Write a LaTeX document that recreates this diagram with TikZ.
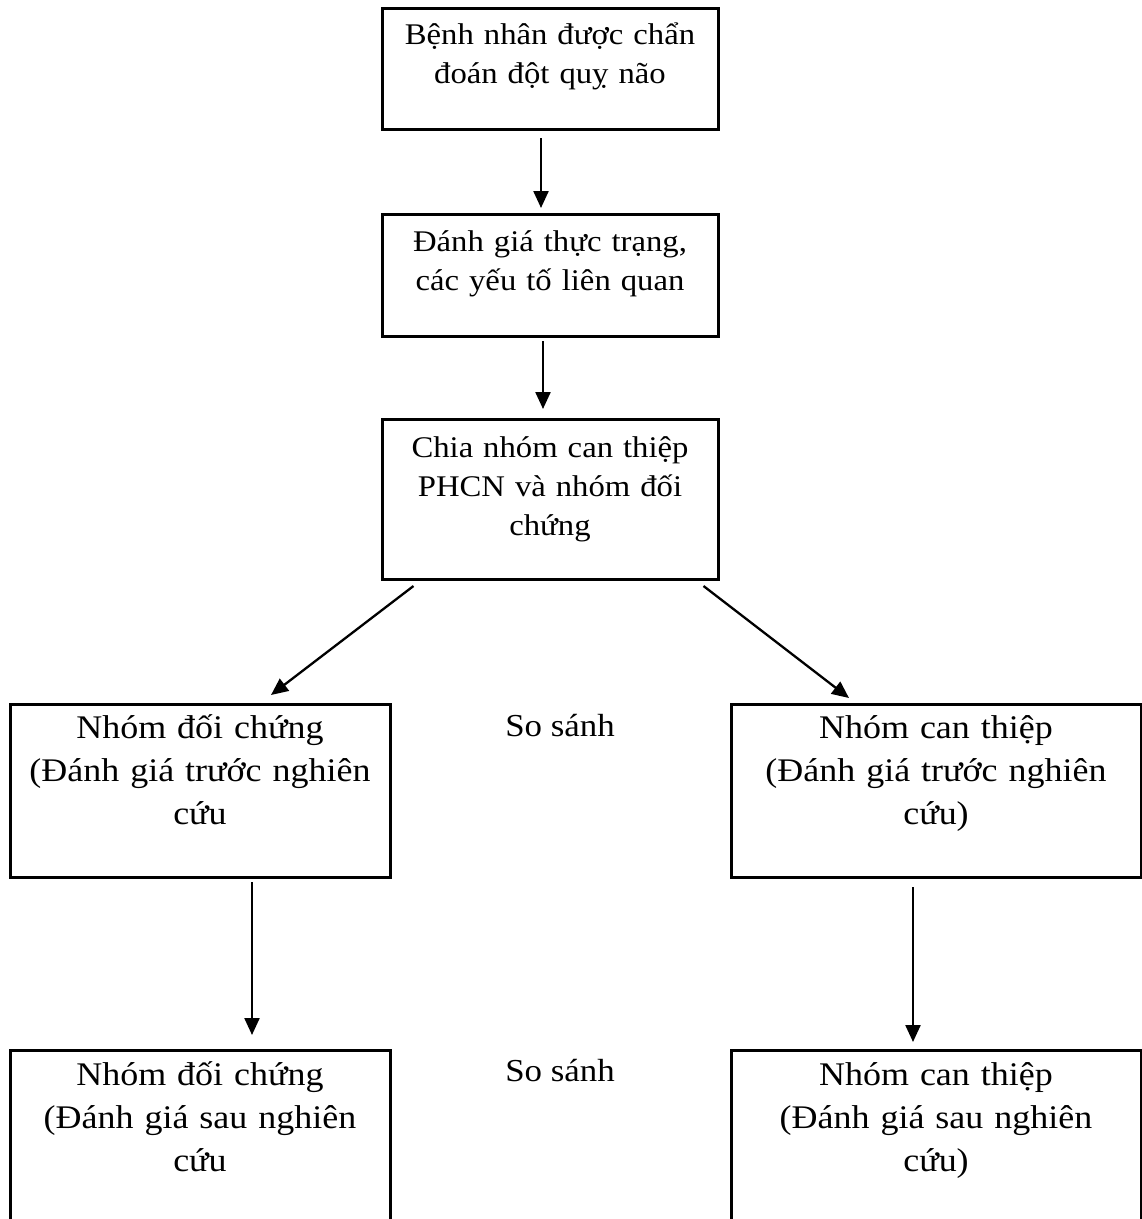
\documentclass[tikz,border=0pt]{standalone}
\usepackage{fontspec}
\setmainfont{Liberation Serif}[FakeStretch=1.09]
\usetikzlibrary{arrows.meta,positioning}

\begin{document}
\begin{tikzpicture}
[
x=1pt, y=-1pt,
stepbox/.style={rectangle, draw=black, line width=3pt, align=center, anchor=north, inner xsep=0pt, inner ysep=0pt, text width=336pt, font=\fontsize{30}{39}\selectfont},
groupbox/.style={stepbox, font=\fontsize{33}{43}\selectfont},
comparetext/.style={font=\fontsize{32}{40}\selectfont},
>={Triangle[length=17pt,width=15pt]},
flow/.style={->, line width=2.3pt},
node distance=82pt,
]
\useasboundingbox (0,0) rectangle (1142,1219);

%Nodes
\node[stepbox] (diagnosis) [text height=36pt, text depth=85pt] at (550,7) {Bệnh nhân được chẩn\\đoán đột quỵ não};
\node[stepbox] (assessment) [below=of diagnosis, text height=37pt, text depth=85pt] {Đánh giá thực trạng,\\các yếu tố liên quan};
\node[stepbox] (grouping) [below=80pt of assessment, text height=38pt, text depth=122pt] {Chia nhóm can thiệp\\PHCN và nhóm đối\\chứng};
\node[groupbox] (controlpre) [text width=380pt, text height=34pt, text depth=139pt] at (200,703) {Nhóm đối chứng\\(Đánh giá trước nghiên\\cứu};
\node[groupbox] (interventionpre) [text width=410pt, text height=34pt, text depth=139pt] at (936,703) {Nhóm can thiệp\\(Đánh giá trước nghiên\\cứu)};
\node[groupbox] (controlpost) [text width=380pt, text height=35pt, text depth=146pt] at (200,1049) {Nhóm đối chứng\\(Đánh giá sau nghiên\\cứu};
\node[groupbox] (interventionpost) [text width=410pt, text height=35pt, text depth=146pt] at (936,1049) {Nhóm can thiệp\\(Đánh giá sau nghiên\\cứu)};
\node[comparetext] (comparepre) at (560,726) {So sánh};
\node[comparetext] (comparepost) at (560,1071) {So sánh};

%Lines
\draw[flow, shorten <=7pt, shorten >=5pt] ([xshift=-9pt]diagnosis.south) -- ([xshift=-9pt]assessment.north);
\draw[flow, shorten <=3pt, shorten >=9pt] ([xshift=-7pt]assessment.south) -- ([xshift=-7pt]grouping.north);
\draw[flow] ([xshift=33pt,yshift=-5pt]grouping.south west) -- ([xshift=71pt,yshift=8pt]controlpre.north);
\draw[flow] ([xshift=-16pt,yshift=-5pt]grouping.south east) -- ([xshift=-87pt,yshift=5pt]interventionpre.north);
\draw[flow, shorten <=3pt, shorten >=14pt] ([xshift=52pt]controlpre.south) -- ([xshift=52pt]controlpost.north);
\draw[flow, shorten <=8pt, shorten >=7pt] ([xshift=-23pt]interventionpre.south) -- ([xshift=-23pt]interventionpost.north);
\end{tikzpicture}
\end{document}
